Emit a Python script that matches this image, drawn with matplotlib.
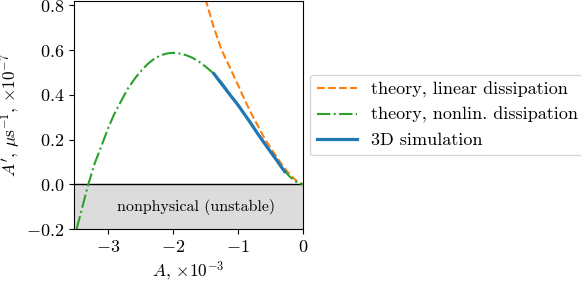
import numpy as np
import matplotlib
matplotlib.use("Agg")
import matplotlib.pyplot as plt

plt.rcParams["font.family"] = "serif"
plt.rcParams["font.serif"] = ["cmr10"]
plt.rcParams["mathtext.fontset"] = "cm"
plt.rcParams["axes.formatter.use_mathtext"] = True
plt.rcParams["axes.unicode_minus"] = True
plt.rcParams["font.size"] = 11.5
plt.rcParams["xtick.labelsize"] = 13
plt.rcParams["ytick.labelsize"] = 13
plt.rcParams["axes.labelsize"] = 12.5
plt.rcParams["legend.fontsize"] = 13

# teoria, disipacion lineal
A_lin = [-1.50, -1.38, -1.25, -1.12, -1.00, -0.90, -0.80, -0.70, -0.60,
         -0.50, -0.40, -0.30, -0.20, -0.10, 0.0]
dA_lin = [0.83, 0.71, 0.60, 0.52, 0.445, 0.38, 0.32, 0.265, 0.21,
          0.163, 0.12, 0.078, 0.043, 0.015, 0.0]

# teoria, disipacion no lineal
A_nl = [-3.48, -3.39, -3.30, -3.20, -3.10, -2.99, -2.90, -2.80, -2.70, -2.58,
        -2.48, -2.38, -2.28, -2.18, -2.08, -2.00, -1.90, -1.80, -1.70, -1.60,
        -1.50, -1.37, -1.25, -1.15, -1.03, -0.92, -0.80, -0.70, -0.60, -0.50,
        -0.40, -0.30, -0.20, -0.10, 0.0]
dA_nl = [-0.20, -0.10, 0.0, 0.095, 0.17, 0.255, 0.315, 0.37, 0.425, 0.475,
         0.51, 0.54, 0.563, 0.578, 0.586, 0.588, 0.585, 0.578, 0.566, 0.549,
         0.527, 0.495, 0.455, 0.415, 0.368, 0.322, 0.272, 0.228, 0.185, 0.145,
         0.105, 0.065, 0.033, 0.01, 0.0]

# simulacion 3D
A_sim = [-1.37, -1.28, -1.20, -1.10, -1.00, -0.92, -0.80, -0.70, -0.62,
         -0.56, -0.48, -0.40, -0.34, -0.28]
dA_sim = [0.495, 0.46, 0.43, 0.392, 0.355, 0.322, 0.272, 0.228, 0.195,
          0.17, 0.138, 0.106, 0.08, 0.057]

fig = plt.figure(figsize=(5.81, 2.83), dpi=100)
ax = fig.add_axes([74 / 581, 1 - 229 / 283, 229 / 581, 228 / 283])

ax.axhspan(-0.2, 0.0, color="#dcdcdc", zorder=0)
ax.axhline(0.0, color="black", lw=1.0, zorder=1)
ax.text(-1.64, -0.1, "nonphysical (unstable)", ha="center", va="center")

ax.plot(A_lin, dA_lin, "--", color="C1", lw=1.5, label="theory, linear dissipation")
ax.plot(A_nl, dA_nl, "-.", color="C2", lw=1.5, label="theory, nonlin. dissipation")
ax.plot(A_sim, dA_sim, "-", color="C0", lw=2.3, label="3D simulation")

ax.set_xlim(-3.52, 0.0)
ax.set_ylim(-0.2, 0.82)
ax.set_xticks([-3, -2, -1, 0])
ax.set_yticks([-0.2, 0.0, 0.2, 0.4, 0.6, 0.8])
ax.set_xlabel(r"$A$, $\times10^{-3}$")
ax.set_ylabel(r"$A'$, $\mu\mathrm{s}^{-1}$, $\times10^{-7}$")
ax.yaxis.set_label_coords(-0.225, 0.5)

ax.legend(loc="center left", bbox_to_anchor=(1.03, 0.5), handlelength=2.2,
          borderaxespad=0.0)

fig.savefig("out.png", dpi=100)
